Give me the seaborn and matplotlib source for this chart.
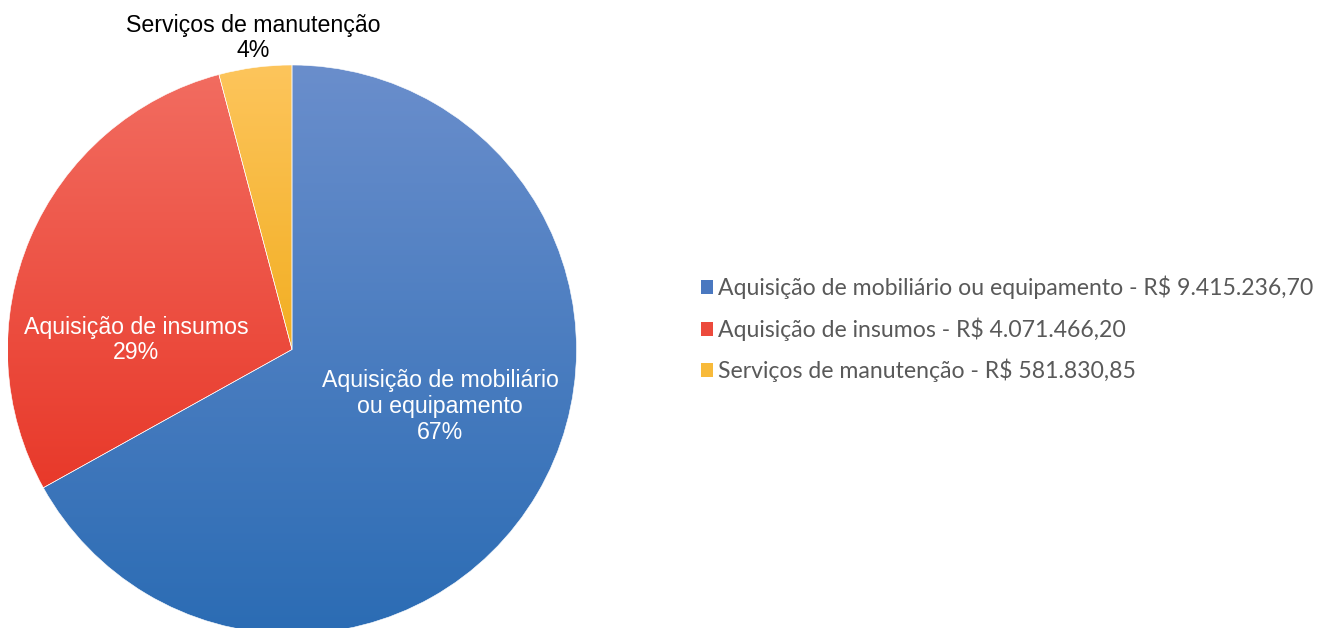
import numpy as np
import matplotlib
matplotlib.use("Agg")
import matplotlib.pyplot as plt
from matplotlib.colors import LinearSegmentedColormap
from matplotlib.patches import Patch
import seaborn as sns

categories = ["Aquisição de mobiliário ou equipamento", "Aquisição de insumos", "Serviços de manutenção"]
valores = [9415236.70, 4071466.20, 581830.85]
valores_txt = ["R$ 9.415.236,70", "R$ 4.071.466,20", "R$ 581.830,85"]
rotulos = ["Aquisição de mobiliário\nou equipamento", "Aquisição de insumos", "Serviços de manutenção"]

cores_topo = ["#6A8ECC", "#F26C60", "#FDC55C"]
cores_base = ["#2B6CB4", "#E8392A", "#F2AE22"]
cores_leg = ["#4A78C0", "#EC4A3C", "#F8BA3A"]

sns.set_theme(style="white")
plt.rcParams["font.family"] = ["Liberation Sans", "DejaVu Sans"]

fig = plt.figure(figsize=(13.28, 6.28), dpi=100)
W, H = 1328, 628
cx, cy, r = 292, 349.5, 284.5
ax = fig.add_axes([(cx - r) / W, (H - cy - r) / H, 2 * r / W, 2 * r / H])
ax.axis("off")

wedges, _ = ax.pie(valores, startangle=90, counterclock=False, radius=1,
                   wedgeprops=dict(edgecolor="white", linewidth=0.4))

# gradiente vertical em cada fatia (estilo Excel)
for w, c0, c1 in zip(wedges, cores_topo, cores_base):
    verts = w.get_path().vertices
    ymin, ymax = verts[:, 1].min(), verts[:, 1].max()
    cmap = LinearSegmentedColormap.from_list("g", [c1, c0])
    grad = np.linspace(0, 1, 256).reshape(-1, 1)
    im = ax.imshow(grad, cmap=cmap, origin="lower", aspect="auto",
                   extent=[-1.05, 1.05, ymin, ymax], zorder=1)
    im.set_clip_path(w)
    w.set_facecolor("none")
    w.set_zorder(2)
ax.set_xlim(-1, 1)
ax.set_ylim(-1, 1)

total = sum(valores)
pct = [f"{v / total * 100:.0f}%" for v in valores]
pos = [(0.52, -0.20), (-0.548, 0.033), (-0.137, 1.095)]
cor_txt = ["white", "white", "black"]
for (x, y), lab, p, c in zip(pos, rotulos, pct, cor_txt):
    ax.text(x, y, f"{lab}\n{p}", ha="center", va="center", fontsize=16.7,
            color=c, linespacing=1.15, clip_on=False)

handles = [Patch(facecolor=c, edgecolor="none") for c in cores_leg]
labels = [f"{n} - {v}" for n, v in zip(categories, valores_txt)]
leg = fig.legend(handles, labels, loc="center left", bbox_to_anchor=(680 / W, 1 - 329 / H),
                 frameon=False, handlelength=0.55, handleheight=0.55, handletextpad=0.2,
                 labelspacing=0.79, prop={"family": "Lato", "size": 16.6})
for t in leg.get_texts():
    t.set_color("#595959")

fig.savefig("out.png", dpi=100)
